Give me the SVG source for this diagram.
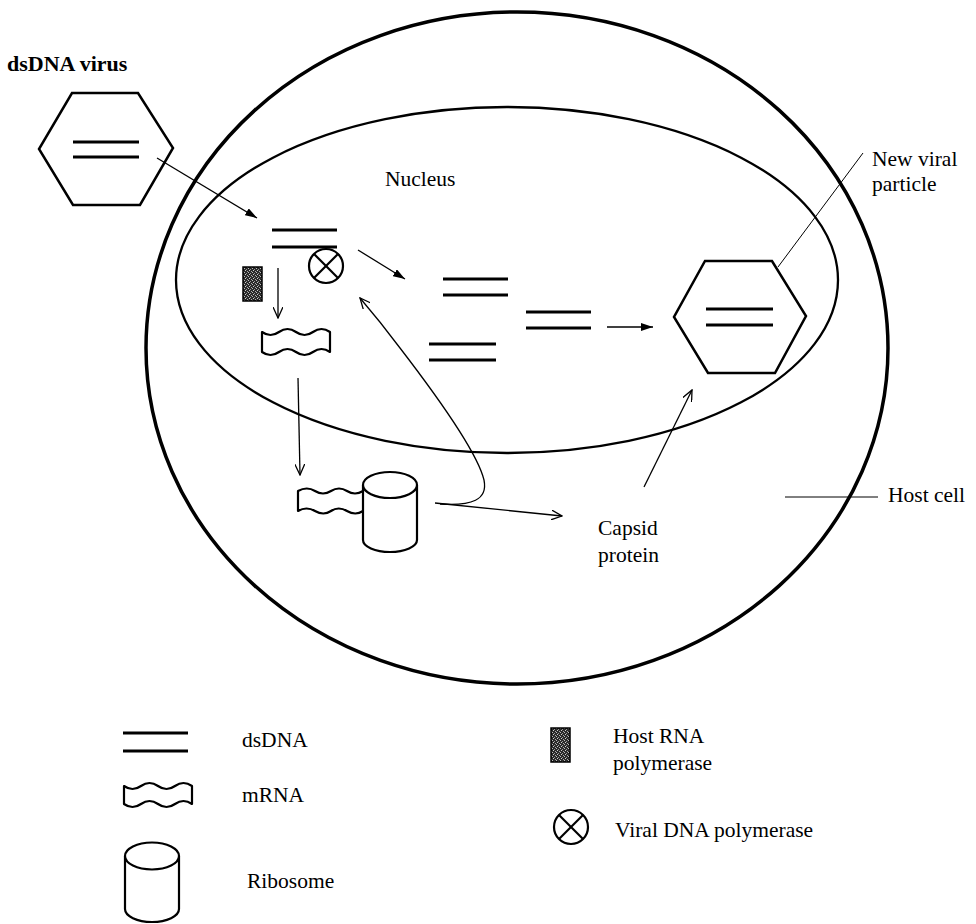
<svg xmlns="http://www.w3.org/2000/svg" width="976" height="924" viewBox="0 0 976 924">
<style>
.lbl{font-family:"Liberation Serif","Times New Roman",serif;font-size:21.5px;fill:#000}
.bold{font-weight:bold;font-size:22px}
.mem{fill:none;stroke:#000}
.dna{stroke:#000;stroke-width:3;fill:none}
.shape{fill:#fff;stroke:#000;stroke-width:2.2;stroke-linejoin:round}
.hex{fill:none;stroke:#000;stroke-width:2.5;stroke-linejoin:miter}
.conn{fill:none;stroke:#000;stroke-width:1.3}
.lead{fill:none;stroke:#000;stroke-width:1}
.pol{fill:url(#stip);stroke:#000;stroke-width:1.5}
.xcirc{fill:#fff;stroke:#000;stroke-width:2.2}
</style>
<defs>
<pattern id="stip" width="4" height="4" patternUnits="userSpaceOnUse">
<rect width="4" height="4" fill="#2a2a2a"/>
<rect x="0" y="0" width="1" height="1" fill="#bbb"/>
<rect x="2" y="1" width="1" height="1" fill="#999"/>
<rect x="1" y="2" width="1" height="1" fill="#ccc"/>
<rect x="3" y="3" width="1" height="1" fill="#aaa"/>
</pattern>
<marker id="fill" viewBox="0 0 12 8" refX="12" refY="4" markerWidth="12" markerHeight="8" markerUnits="userSpaceOnUse" orient="auto">
<path d="M0,0 L12,4 L0,8 Z" fill="#000"/>
</marker>
<marker id="open" viewBox="0 0 12 10" refX="11" refY="5" markerWidth="12" markerHeight="10" markerUnits="userSpaceOnUse" orient="auto">
<path d="M0,0 L11,5 L0,10" fill="none" stroke="#000" stroke-width="1.3"/>
</marker>
</defs>
<rect width="976" height="924" fill="#fff"/>

<g id="host-cell">
<ellipse class="mem" cx="517" cy="348" rx="371" ry="336" stroke-width="3.5"/>
</g>
<g id="nucleus">
<ellipse class="mem" cx="507" cy="280" rx="331" ry="173" stroke-width="2.3"/>
<text class="lbl" x="385" y="186">Nucleus</text>
</g>

<g id="dsdna-virus">
<text class="lbl bold" x="7" y="71">dsDNA virus</text>
<polygon class="hex" points="72,93 138,93 173,148 140,205 73,205 39,149"/>
<line class="dna" x1="73" y1="142" x2="139" y2="142"/>
<line class="dna" x1="73" y1="157" x2="139" y2="157"/>
</g>

<g id="viral-dna-entry">
<line class="dna" x1="272" y1="230" x2="337" y2="230"/>
<line class="dna" x1="272" y1="247" x2="337" y2="247"/>
</g>

<g id="viral-dna-polymerase">
<circle class="xcirc" cx="326" cy="266" r="17"/>
<line stroke="#000" stroke-width="2.2" x1="314" y1="254" x2="338" y2="278"/>
<line stroke="#000" stroke-width="2.2" x1="338" y1="254" x2="314" y2="278"/>
</g>

<g id="host-rna-polymerase">
<rect class="pol" x="243" y="267" width="19" height="34"/>
</g>

<g id="mrna">
<path class="shape" d="M262,332 q8.5,6 17,0 t17,0 t17,0 t17,0 L330,352 q-8.5,-6 -17,0 t-17,0 t-17,0 t-17,0 Z"/>
</g>

<g id="replicated-dna-1">
<line class="dna" x1="443" y1="279" x2="508" y2="279"/>
<line class="dna" x1="443" y1="295" x2="508" y2="295"/>
</g>
<g id="replicated-dna-2">
<line class="dna" x1="429" y1="344" x2="496" y2="344"/>
<line class="dna" x1="429" y1="360" x2="496" y2="360"/>
</g>
<g id="replicated-dna-3">
<line class="dna" x1="526" y1="312" x2="591" y2="312"/>
<line class="dna" x1="526" y1="328" x2="591" y2="328"/>
</g>

<g id="new-viral-particle">
<polygon class="hex" points="705,261 772,261 806,316 775,373 708,373 674,317"/>
<line class="dna" x1="706" y1="309" x2="773" y2="309"/>
<line class="dna" x1="706" y1="325" x2="773" y2="325"/>
<text class="lbl" x="872" y="166">New viral</text>
<text class="lbl" x="872" y="191">particle</text>
</g>

<g id="ribosome-complex">
<path class="shape" d="M363,491 q-8,5 -16,0 t-16,0 t-16,0 t-17,0 L298,511 q8.5,-5 17,0 t16,0 t16,0 t16,0"/>
<path class="shape" d="M363,485 L363,540 A27,12 0 0 0 417,540 L417,485"/>
<ellipse class="shape" cx="390" cy="485" rx="27" ry="13"/>
</g>

<g id="capsid-protein">
<text class="lbl" x="598" y="535">Capsid</text>
<text class="lbl" x="598" y="562">protein</text>
</g>

<g id="host-cell-label">
<text class="lbl" x="888" y="502">Host cell</text>
</g>

<g id="connectors">
<line class="conn" x1="157" y1="158" x2="257" y2="218" marker-end="url(#fill)"/>
<line class="conn" x1="278" y1="268" x2="278" y2="318" marker-end="url(#open)"/>
<line class="conn" x1="358" y1="250" x2="405" y2="279" marker-end="url(#fill)"/>
<line class="conn" x1="607" y1="327" x2="653" y2="327" marker-end="url(#fill)"/>
<line class="conn" x1="298" y1="378" x2="300" y2="475" marker-end="url(#open)"/>
<line class="conn" x1="435" y1="503" x2="562" y2="516" marker-end="url(#open)"/>
<path class="conn" d="M440,504 C472,506 488,500 484,480 C478,455 440,400 400,348 C385,328 372,312 360,298" marker-end="url(#open)"/>
<line class="conn" x1="644" y1="487" x2="692" y2="390" marker-end="url(#open)"/>
<line class="lead" x1="778" y1="267" x2="863" y2="153"/>
<line class="lead" x1="785" y1="497" x2="878" y2="497"/>
</g>

<g id="legend">
<line class="dna" x1="123" y1="733" x2="188" y2="733"/>
<line class="dna" x1="123" y1="751" x2="188" y2="751"/>
<text class="lbl" x="242" y="747">dsDNA</text>
<path class="shape" d="M124,786 q8.5,6 17,0 t17,0 t17,0 t17,0 L192,804 q-8.5,-6 -17,0 t-17,0 t-17,0 t-17,0 Z"/>
<text class="lbl" x="242" y="802">mRNA</text>
<path class="shape" d="M125,856 L125,909 A27,13 0 0 0 179,909 L179,856"/>
<ellipse class="shape" cx="152" cy="856" rx="27" ry="13.5"/>
<text class="lbl" x="247" y="888">Ribosome</text>
<rect class="pol" x="551" y="728" width="19" height="34"/>
<text class="lbl" x="613" y="743">Host RNA</text>
<text class="lbl" x="613" y="770">polymerase</text>
<circle class="xcirc" cx="571" cy="827" r="17"/>
<line stroke="#000" stroke-width="2.2" x1="559" y1="815" x2="583" y2="839"/>
<line stroke="#000" stroke-width="2.2" x1="583" y1="815" x2="559" y2="839"/>
<text class="lbl" x="615" y="837">Viral DNA polymerase</text>
</g>
</svg>
